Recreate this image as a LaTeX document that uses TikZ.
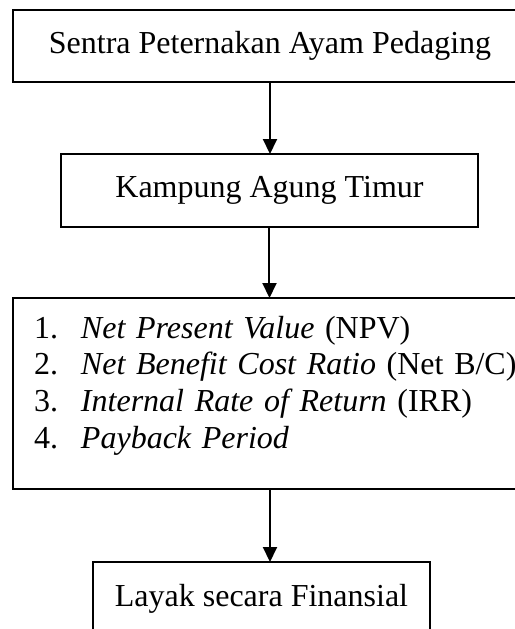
\documentclass[tikz,border=0pt]{standalone}
\usepackage{fontspec}
\setmainfont{Liberation Serif}
\usetikzlibrary{arrows.meta, positioning}

\newcommand{\butir}[1]{\hspace*{10.5pt}\makebox[23.5pt][l]{#1}}

\begin{document}
\begin{tikzpicture}[x=0.5pt, y=-0.5pt,
    kotak/.style={draw, line width=1pt, inner sep=0pt, outer sep=0pt,
      anchor=north west, font=\fontsize{16}{18.4}\selectfont},
    panah/.style={-{Triangle[length=7.5pt, width=7pt]}, line width=1pt}]
  \useasboundingbox (0,0) rectangle (515,629);
  \clip (0,0) rectangle (515,629);
  \node[kotak, minimum width=257pt, minimum height=36pt] (sentra) at (13,10)
    {Sentra Peternakan Ayam Pedaging};
  \node[kotak, minimum width=208.5pt, minimum height=36.5pt] (kampung) at (61,154)
    {Kampung Agung Timur};
  \node[kotak, minimum width=257pt, minimum height=95.5pt,
    text width=257pt, align=left] (metode) at (13,298)
    {\butir{1.}\textit{Net Present Value} (NPV)\\
     \butir{2.}\textit{Net Benefit Cost Ratio} (Net B/C)\\
     \butir{3.}\textit{Internal Rate of Return} (IRR)\\
     \butir{4.}\textit{Payback Period}\\[-7pt]
     \mbox{}};
  \node[kotak, minimum width=168.5pt, minimum height=36.5pt] (layak) at (93,562)
    {Layak secara Finansial};
  \draw[panah] (sentra.south) -- (sentra.south |- kampung.north);
  \draw[panah] (kampung.south) -- (kampung.south |- metode.north);
  \draw[panah] (metode.south) -- (metode.south |- layak.north);
\end{tikzpicture}
\end{document}
